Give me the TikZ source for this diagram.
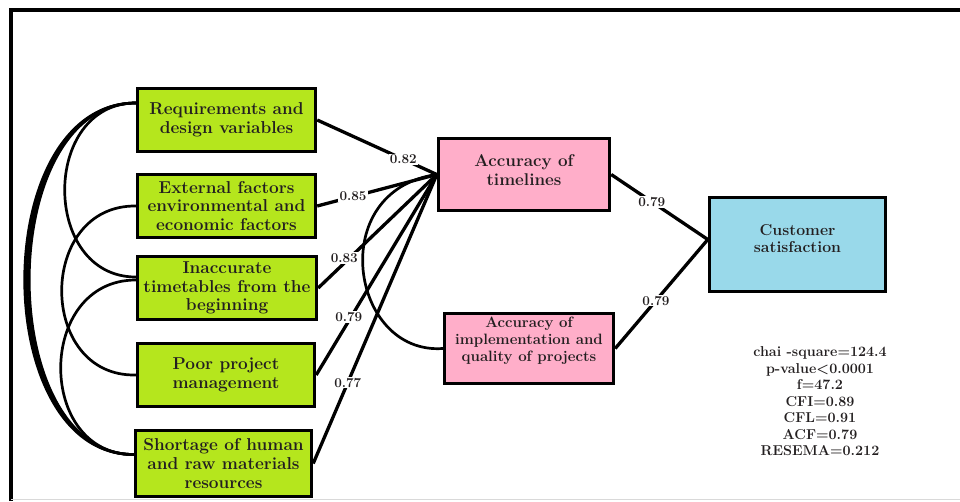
\documentclass[tikz,border=0pt]{standalone}
\usetikzlibrary{calc}
\definecolor{boxgreen}{RGB}{181,230,29}
\definecolor{boxpink}{RGB}{255,174,201}
\definecolor{boxblue}{RGB}{153,217,234}
\definecolor{ink}{RGB}{35,31,32}
\begin{document}
\begin{tikzpicture}[x=1pt,y=-1pt,
  box/.style={draw=black, line width=3.4pt, align=center, text=ink, inner sep=0pt,
    font=\fontsize{17.2}{18.6}\selectfont\bfseries},
  boxtxt/.style={align=center, text=ink, inner sep=0pt},
  conn/.style={line width=3.3pt, black},
  cov/.style={line width=2.7pt, black},
  wt/.style={fill=white, inner sep=1.2pt, text=ink, font=\fontsize{13.5}{15}\selectfont\bfseries}
]
\useasboundingbox (0,0) rectangle (960,501);
% frame
\draw[line width=3.2pt] (11,501) -- (11,10) -- (960,10);
\draw[gray!30, line width=0.8pt] (11,499.5) -- (960,499.5);

% left boxes
\node[box, fill=boxgreen, minimum width=178, minimum height=63] (req) at (226.5,120) {Requirements and\\design variables};
\node[box, fill=boxgreen, minimum width=178, minimum height=63] (ext) at (226.5,206) {External factors\\environmental and\\economic factors};
\node[box, fill=boxgreen, minimum width=179, minimum height=63] (inacc) at (227,288) {Inaccurate\\timetables from the\\beginning};
\node[box, fill=boxgreen, minimum width=177, minimum height=63] (poor) at (226,375) {Poor project\\management};
\node[box, fill=boxgreen, minimum width=176, minimum height=66] (short) at (223.5,463.5) {Shortage of human\\and raw materials\\resources};

% middle boxes
\node[box, fill=boxpink, minimum width=171, minimum height=72,
  label={[boxtxt, yshift=4pt, font=\fontsize{17}{19}\selectfont\bfseries]center:Accuracy of\\timelines}] (acct) at (524,174.5) {};
\node[box, fill=boxpink, minimum width=169, minimum height=70,
  label={[boxtxt, yshift=8pt, font=\fontsize{15}{16.8}\selectfont\bfseries]center:Accuracy of\\implementation and\\quality of projects}] (acci) at (529,348.5) {};

% right box
\node[box, fill=boxblue, minimum width=176, minimum height=94,
  label={[boxtxt, yshift=6pt, font=\fontsize{15.8}{17.5}\selectfont\bfseries]center:Customer\\satisfaction}] (cust) at (797.5,244.5) {};
\coordinate (custin) at ($(cust.west)+(0,-5)$);

% statistics
\node[boxtxt, font=\fontsize{14.3}{16.5}\selectfont\bfseries] (stats) at (820,401.5)
  {chai -square=124.4\\p-value<0.0001\\f=47.2\\CFI=0.89\\CFL=0.91\\ACF=0.79\\RESEMA=0.212};

% covariance arcs
\draw[cov] ($(req.west)+(0,-17)$) .. controls (-12,103) and (-12,455) .. ($(short.west)+(0,-9)$);
\draw[cov] ($(req.west)+(0,-17)$) .. controls (-9,103) and (-9,455) .. ($(short.west)+(0,-9)$);
\draw[cov] ($(req.west)+(0,-17)$) .. controls (-6,103) and (-6,455) .. ($(short.west)+(0,-9)$);
\draw[cov] ($(req.west)+(0,-17)$) .. controls (41,103) and (41,277) .. ($(inacc.west)+(0,-11)$);
\draw[cov] (ext.west) .. controls (37,205) and (37,377) .. (poor.west);
\draw[cov] ($(inacc.west)+(0,-8)$) .. controls (36,280) and (36,455) .. ($(short.west)+(0,-9)$);
\draw[cov] (acci.west) .. controls (350,355) and (325,190) .. (acct.west);

% paths to accuracy of timelines
\draw[conn] (req.east) -- node[wt, pos=0.72] {0.82} (acct.west);
\draw[conn] (ext.east) -- node[wt, pos=0.3] {0.85} (acct.west);
\draw[conn] (inacc.east) -- node[wt, pos=0.22, yshift=5pt] {0.83} (acct.west);
\draw[conn] (poor.east) -- node[wt, pos=0.27, yshift=4pt] {0.79} (acct.west);
\draw[conn] (short.east) -- node[wt, pos=0.28] {0.77} (acct.west);

% paths to customer satisfaction
\draw[conn] (acct.east) -- node[wt, pos=0.42] {0.79} (custin);
\draw[conn] (acci.east) -- node[wt, pos=0.44] {0.79} (custin);
\end{tikzpicture}
\end{document}
